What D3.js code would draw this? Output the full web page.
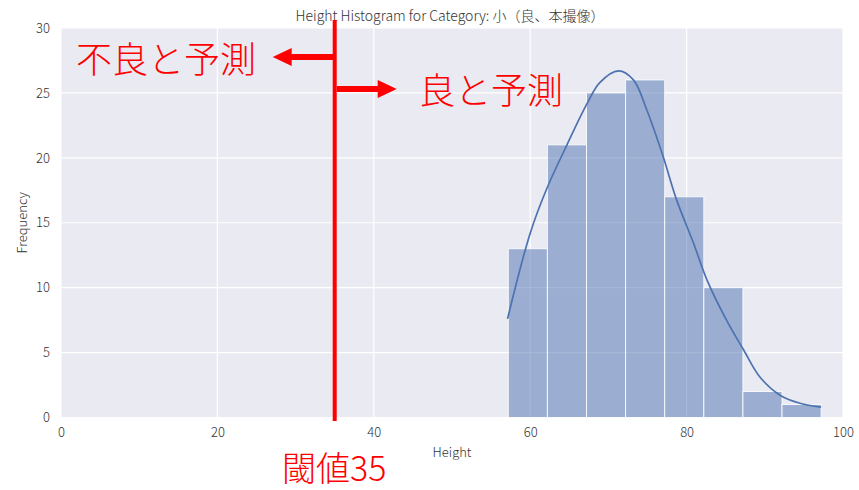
<!DOCTYPE html>
<html>
<head>
<meta charset="utf-8">
<script src="https://cdn.jsdelivr.net/npm/d3@7"></script>
<style>
  html, body { margin: 0; padding: 0; background: #ffffff; }
  svg { display: block; }
  text { font-family: "Noto Sans CJK JP", "Noto Sans", sans-serif; }
</style>
</head>
<body>
<svg id="chart" width="859" height="490"></svg>
<script>
// Histogram bins (Height), counts per bin
const binEdges = [57.2, 62.2, 67.2, 72.2, 77.2, 82.2, 87.2, 92.2, 97.2];
const binCounts = [13, 21, 25, 26, 17, 10, 2, 1];

// Kernel density estimate, scaled to counts
const kdeX = [57.1, 60.0, 62.1, 64.7, 67.2, 68.9, 71.3, 73.2, 74.9, 77.0, 78.7, 80.9, 82.6, 85.1, 87.3, 89.4, 92.0, 94.5, 97.2];
const kdeY = [7.6, 14.2, 17.6, 21.0, 24.1, 25.8, 26.7, 26.0, 23.7, 20.1, 16.8, 13.4, 10.6, 7.5, 5.2, 3.1, 1.7, 1.1, 0.8];

const xTicks = [0, 20, 40, 60, 80, 100];
const yTicks = [0, 5, 10, 15, 20, 25, 30];

const threshold = 35;
const titleText = "Height Histogram for Category: 小（良、本撮像）";
const leftLabel = "不良と予測";
const rightLabel = "良と予測";
const thresholdLabel = "閾値" + threshold;

const svg = d3.select("#chart");
const plot = { left: 61, right: 843, top: 28, bottom: 417.5 };

const x = d3.scaleLinear().domain([0, 100]).range([plot.left, plot.right]);
const y = d3.scaleLinear().domain([0, 30]).range([plot.bottom, plot.top]);

// Plot background
svg.append("rect")
  .attr("x", plot.left).attr("y", plot.top)
  .attr("width", plot.right - plot.left).attr("height", plot.bottom - plot.top)
  .attr("fill", "#EAEAF2");

// Grid lines
const grid = svg.append("g");
grid.selectAll("line.vx").data(xTicks).join("line")
  .attr("x1", d => x(d)).attr("x2", d => x(d))
  .attr("y1", plot.top).attr("y2", plot.bottom)
  .attr("stroke", "#ffffff").attr("stroke-width", 1.2);
grid.selectAll("line.hy").data(yTicks).join("line")
  .attr("x1", plot.left).attr("x2", plot.right)
  .attr("y1", d => y(d)).attr("y2", d => y(d))
  .attr("stroke", "#ffffff").attr("stroke-width", 1.2);

// Axes (labels only, no domain or tick marks)
const xAxis = svg.append("g")
  .attr("transform", `translate(0,${plot.bottom})`)
  .call(d3.axisBottom(x).tickValues(xTicks).tickSize(0).tickPadding(10));
const yAxis = svg.append("g")
  .attr("transform", `translate(${plot.left},0)`)
  .call(d3.axisLeft(y).tickValues(yTicks).tickSize(0).tickPadding(11));
[xAxis, yAxis].forEach(g => {
  g.select(".domain").remove();
  g.selectAll("text")
    .attr("fill", "#333333")
    .style("font-size", "13px")
    .style("font-weight", "300")
    .style("font-family", '"Noto Sans CJK JP", "Noto Sans", sans-serif');
});

// Bars
const bins = binCounts.map((c, i) => ({ x0: binEdges[i], x1: binEdges[i + 1], count: c }));
svg.append("g").selectAll("rect").data(bins).join("rect")
  .attr("x", d => x(d.x0))
  .attr("y", d => y(d.count))
  .attr("width", d => x(d.x1) - x(d.x0))
  .attr("height", d => y(0) - y(d.count))
  .attr("fill", "#4C72B0").attr("fill-opacity", 0.5)
  .attr("stroke", "#ffffff").attr("stroke-opacity", 0.85).attr("stroke-width", 1);

// KDE curve
const kdePts = kdeX.map((v, i) => [v, kdeY[i]]);
svg.append("path")
  .datum(kdePts)
  .attr("fill", "none")
  .attr("stroke", "#4C72B0")
  .attr("stroke-width", 1.7)
  .attr("d", d3.line().x(d => x(d[0])).y(d => y(d[1])).curve(d3.curveCatmullRom));

// Title and axis labels
svg.append("text")
  .attr("x", (plot.left + plot.right) / 2 - 2).attr("y", 21)
  .attr("text-anchor", "middle").attr("fill", "#333333")
  .style("font-size", "14px").style("font-weight", "300").text(titleText);
svg.append("text")
  .attr("x", (plot.left + plot.right) / 2).attr("y", 457)
  .attr("text-anchor", "middle").attr("fill", "#333333")
  .style("font-size", "13px").style("font-weight", "300").text("Height");
svg.append("text")
  .attr("transform", `translate(27,${(plot.top + plot.bottom) / 2}) rotate(-90)`)
  .attr("text-anchor", "middle").attr("fill", "#333333")
  .style("font-size", "13px").style("font-weight", "300").text("Frequency");

// Threshold marker and annotations
const red = "#FF0000";
const tx = x(threshold);
svg.append("line")
  .attr("x1", tx).attr("x2", tx).attr("y1", 20).attr("y2", 421)
  .attr("stroke", red).attr("stroke-width", 4);

// Left arrow
svg.append("rect")
  .attr("x", tx - 44).attr("y", 54).attr("width", 44).attr("height", 6)
  .attr("fill", red);
svg.append("path")
  .attr("d", `M${tx - 62},57 L${tx - 43},48 L${tx - 43},66 Z`)
  .attr("fill", red);

// Right arrow
svg.append("rect")
  .attr("x", tx + 2).attr("y", 86).attr("width", 42).attr("height", 6)
  .attr("fill", red);
svg.append("path")
  .attr("d", `M${tx + 62},89 L${tx + 43},80 L${tx + 43},98 Z`)
  .attr("fill", red);

svg.append("text")
  .attr("x", 76).attr("y", 57).attr("dominant-baseline", "central")
  .attr("fill", red).style("font-size", "36px").style("font-weight", "300").text(leftLabel);
svg.append("text")
  .attr("x", 419).attr("y", 88).attr("dominant-baseline", "central")
  .attr("fill", red).style("font-size", "36px").style("font-weight", "300").text(rightLabel);
svg.append("text")
  .attr("x", 282).attr("y", 466).attr("dominant-baseline", "central")
  .attr("fill", red).style("font-size", "34px").style("font-weight", "300").text(thresholdLabel);
</script>
</body>
</html>
